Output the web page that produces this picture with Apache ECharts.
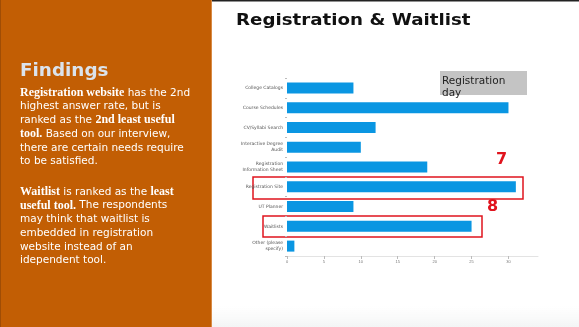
<!DOCTYPE html>
<html lang="en">

<head>
    <meta charset="UTF-8">
    <title>Registration & Waitlist</title>
    <script src="https://cdn.jsdelivr.net/npm/echarts@6/dist/echarts.min.js"></script>
    <style>
        html, body { margin: 0; padding: 0; background: #fff; }
        #main { width: 579px; height: 327px; }
    </style>
</head>

<body>
    <div id="main"></div>
    <script>
        var myChart = echarts.init(document.getElementById('main'));

        // 数据
        var categories = ['College Catalogs', 'Course Schedules', 'CV/Syllabi Search',
            'Interactive Degree\nAudit', 'Registration\nInformation Sheet', 'Registration Site',
            'UT Planner', 'Waitlists', 'Other (please\nspecify)'];
        var counts = [9, 30, 12, 10, 19, 31, 9, 25, 1];
        var tickValues = [0, 5, 10, 15, 20, 25, 30];

        var sans = '"DejaVu Sans", sans-serif';
        var serif = '"Liberation Serif", serif';
        var rich = {
            b: { fontFamily: serif, fontWeight: 'bold', fontSize: 12, fill: '#fff', lineHeight: 13.7 },
            n: { fontFamily: sans, fontSize: 10.5, fill: '#fff', lineHeight: 13.7 }
        };

        var p1 = [
            '{b|Registration website}{n| has the 2nd}',
            '{n|highest answer rate, but is}',
            '{n|ranked as the }{b|2nd least useful}',
            '{b|tool.}{n| Based on our interview,}',
            '{n|there are certain needs require}',
            '{n|to be satisfied.}'
        ].join('\n');
        var p2 = [
            '{b|Waitlist}{n| is ranked as the }{b|least}',
            '{b|useful tool.}{n| The respondents}',
            '{n|may think that waitlist is}',
            '{n|embedded in registration}',
            '{n|website instead of an}',
            '{n|idependent tool.}'
        ].join('\n');

        var option = {
            animation: false,
            grid: {
                left: 287,
                right: 41,
                top: 78,
                bottom: 71
            },
            xAxis: {
                type: 'value',
                min: 0,
                max: 34,
                splitLine: { show: false },
                axisLine: { show: true, lineStyle: { color: '#e3e3e3' } },
                axisTick: { show: true, length: 3, customValues: tickValues, lineStyle: { color: '#bbb' } },
                axisLabel: { customValues: tickValues, fontSize: 4, color: '#777', margin: 4 }
            },
            yAxis: {
                type: 'category',
                inverse: true,
                data: categories,
                axisLine: { show: false },
                axisTick: { show: true, length: 2, lineStyle: { color: '#bbb' } },
                axisLabel: { fontSize: 4.5, color: '#555', margin: 4, lineHeight: 6, fontFamily: sans }
            },
            series: [{
                type: 'bar',
                data: counts,
                barWidth: 11,
                itemStyle: { color: '#0a96e2' }
            }],
            graphic: [
                // 左边橙色面板
                { type: 'rect', shape: { x: 0, y: 0, width: 212, height: 327 }, style: { fill: '#c25e04' } },
                { type: 'rect', shape: { x: 0, y: 0, width: 1, height: 327 }, style: { fill: '#a04d05' } },
                { type: 'rect', shape: { x: 211, y: 0, width: 1, height: 327 }, style: { fill: '#d88a45' } },
                { type: 'rect', shape: { x: 212, y: 0, width: 367, height: 1.5 }, style: { fill: '#222' } },
                {
                    // 底部淡淡的阴影
                    type: 'rect', shape: { x: 212, y: 306, width: 367, height: 21 },
                    style: {
                        fill: new echarts.graphic.LinearGradient(0, 0, 0, 1, [
                            { offset: 0, color: 'rgba(235,238,238,0)' },
                            { offset: 1, color: 'rgba(228,232,232,0.45)' }
                        ])
                    }
                },
                {
                    type: 'text', left: 20, top: 63, scaleX: 1.08,
                    style: { text: 'Findings', font: 'bold 17px ' + sans, fill: '#dbe3ec' }
                },
                { type: 'text', left: 20, top: 87, style: { text: p1, rich: rich } },
                { type: 'text', left: 20, top: 186, style: { text: p2, rich: rich } },
                // 标题
                {
                    type: 'text', left: 236, top: 13, scaleX: 1.14,
                    style: { text: 'Registration & Waitlist', font: 'bold 16px ' + sans, fill: '#111' }
                },
                // 注释
                { type: 'rect', shape: { x: 440, y: 71, width: 87, height: 24 }, style: { fill: '#c4c4c4' } },
                {
                    type: 'text', left: 442, top: 75,
                    style: { text: 'Registration\nday', font: '10.5px ' + sans, fill: '#222', lineHeight: 12.5 }
                },
                {
                    type: 'rect', shape: { x: 253, y: 177, width: 270, height: 22 },
                    style: { fill: 'none', stroke: '#e0141e', lineWidth: 1.5 }
                },
                {
                    type: 'rect', shape: { x: 263, y: 216, width: 219, height: 21 },
                    style: { fill: 'none', stroke: '#e0141e', lineWidth: 1.5 }
                },
                {
                    type: 'text', left: 496, top: 152,
                    style: { text: '7', font: 'bold 16px ' + sans, fill: '#e0141e' }
                },
                {
                    type: 'text', left: 487, top: 199,
                    style: { text: '8', font: 'bold 16px ' + sans, fill: '#e0141e' }
                }
            ]
        };

        myChart.setOption(option);
        window.onresize = function() {
            myChart.resize();
        };
    </script>
</body>

</html>
